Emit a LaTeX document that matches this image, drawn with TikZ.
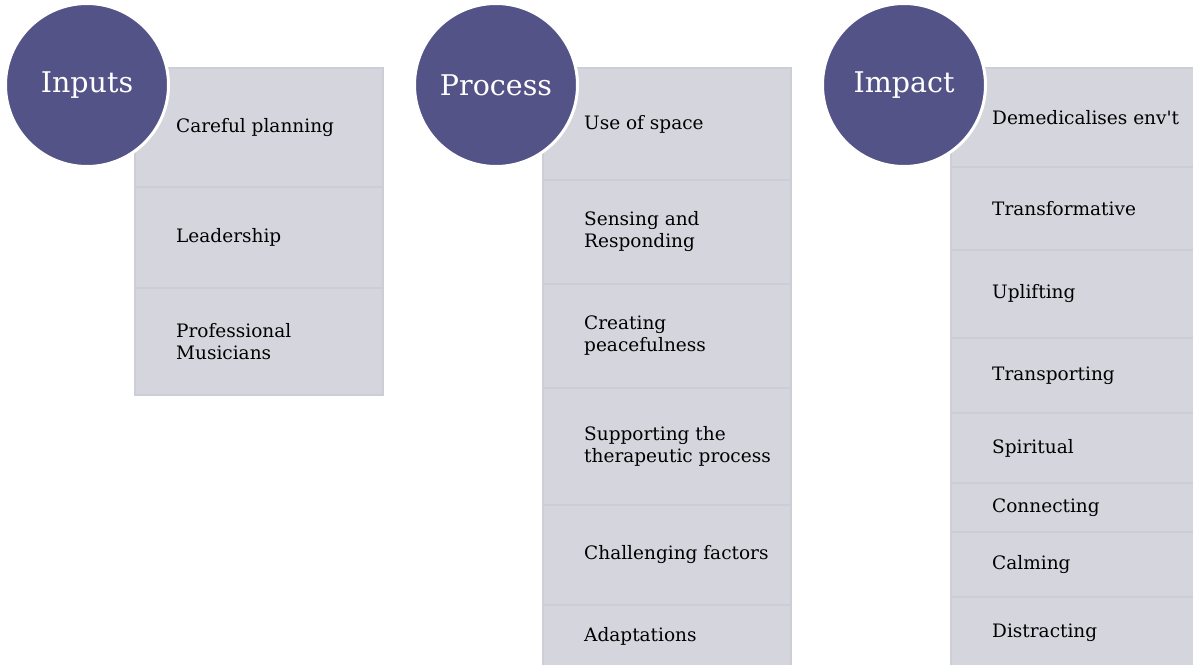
\documentclass[tikz,border=0pt]{standalone}
\usepackage{fontspec}
\setmainfont{DejaVu Serif}
\definecolor{ringfill}{HTML}{535388}
\definecolor{cellfill}{HTML}{D5D5DE}
\definecolor{cellline}{HTML}{CDCDD7}
\tikzset{
  cell/.style={fill=cellfill, draw=cellline, line width=1.2bp},
  label/.style={anchor=west, align=left, inner sep=0pt, text=black,
    font=\fontsize{18.5bp}{22bp}\selectfont},
  head/.style={circle, fill=ringfill, draw=white, line width=3bp,
    minimum size=163bp, inner sep=0pt, text=white,
    font=\fontsize{28.5bp}{32bp}\selectfont},
}
\newcommand{\cellrow}[5]{%
  % #1 name, #2 left x, #3 top y, #4 bottom y, #5 text
  \path[cell] (#2,#3) rectangle (#2+248,#4);
  \node[label] (#1) at (#2+41,{(#3+#4)/2}) {#5};
}
\begin{document}
\begin{tikzpicture}[x=1bp,y=-1bp]
\useasboundingbox (0,0) rectangle (1193,665);

% Inputs column
\cellrow{in1}{135}{68}{187}{Careful planning}
\cellrow{in2}{135}{187}{288}{Leadership}
\cellrow{in3}{135}{288}{395}{Professional\\Musicians}
\node[head] (inputs) at (87,85) {Inputs};

% Process column
\cellrow{pr1}{543}{68}{180}{Use of space}
\cellrow{pr2}{543}{180}{284}{Sensing and\\Responding}
\cellrow{pr3}{543}{284}{388}{Creating\\peacefulness}
\cellrow{pr4}{543}{388}{505}{Supporting the\\therapeutic process}
\cellrow{pr5}{543}{505}{605}{Challenging factors}
\cellrow{pr6}{543}{605}{668}{Adaptations}
\node[head] (process) at (496,85) {Process};

% Impact column
\cellrow{im1}{951}{68}{167}{Demedicalises env\textquotesingle t}
\cellrow{im2}{951}{167}{250}{Transformative}
\cellrow{im3}{951}{250}{338}{Uplifting}
\cellrow{im4}{951}{338}{413}{Transporting}
\cellrow{im5}{951}{413}{483}{Spiritual}
\cellrow{im6}{951}{483}{532}{Connecting}
\cellrow{im7}{951}{532}{597}{Calming}
\cellrow{im8}{951}{597}{668}{Distracting}
\node[head] (impact) at (904,85) {Impact};
\end{tikzpicture}
\end{document}
